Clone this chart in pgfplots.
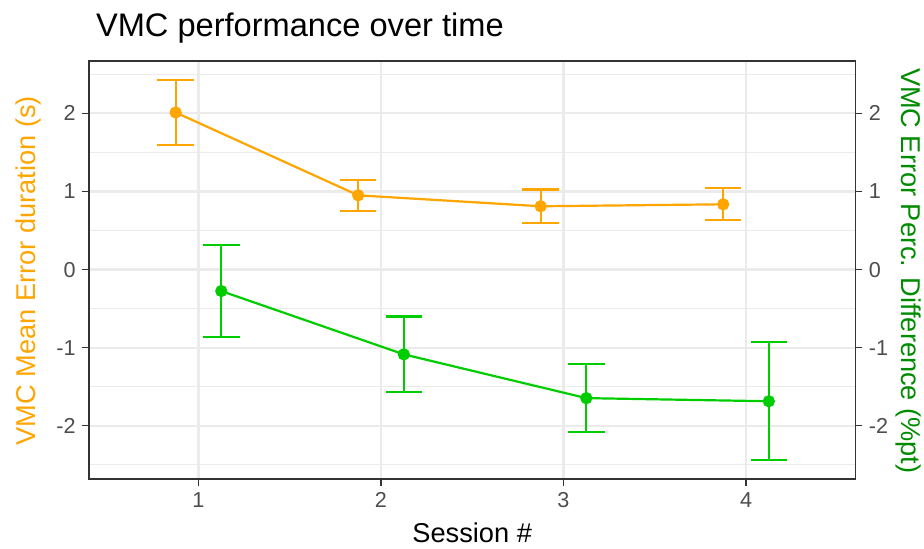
\documentclass[border=0pt]{standalone}
\usepackage{fontspec}
\setmainfont{Liberation Sans}
\usepackage{pgfplots}
\pgfplotsset{compat=1.18}
\definecolor{ggorange}{HTML}{FFA500}
\definecolor{gggreen}{HTML}{00CD00}
\definecolor{gggreenlab}{HTML}{008B00}
\definecolor{gray92}{HTML}{EBEBEB}
\definecolor{gray30}{HTML}{4D4D4D}
\definecolor{gray20}{HTML}{333333}
\pgfplotstableread{
x y ep em
0.875 2.01 0.42 0.42
1.875 0.95 0.20 0.20
2.875 0.81 0.215 0.215
3.875 0.835 0.205 0.205
}\orangedata
\pgfplotstableread{
x y ep em
1.125 -0.275 0.585 0.585
2.125 -1.085 0.485 0.485
3.125 -1.645 0.435 0.435
4.125 -1.685 0.755 0.755
}\greendata
\begin{document}
\begin{tikzpicture}
\useasboundingbox (0,0) rectangle (462pt,274pt);
\pgfplotsset{
  common/.style={
    scale only axis, width=383.25pt, height=208.85pt,
    at={(44.5pt,34.5pt)}, anchor=south west,
    xmin=0.4, xmax=4.6, ymin=-2.68, ymax=2.665,
    ytick={-2,-1,0,1,2}, yticklabels={-2,-1,0,1,2},
    tick align=outside, major tick length=3.3pt,
    tick style={gray20, line width=0.55pt},
    ticklabel style={font=\fontsize{10.8}{12}\selectfont, text=gray30, inner sep=0pt},
    axis line style={gray20, line width=0.85pt},
  }
}
\begin{axis}[common,
  xtick={1,2,3,4}, xticklabels={1,2,3,4}, xtick pos=bottom, ytick pos=left,
  minor ytick={-2.5,-1.5,-0.5,0.5,1.5,2.5},
  minor tick length=0pt,
  xmajorgrids, ymajorgrids, yminorgrids,
  major grid style={gray92, line width=1.1pt},
  minor grid style={gray92, line width=0.55pt},
  yticklabel style={anchor=east, xshift=-3.2pt},
  xticklabel style={anchor=north, yshift=-3.2pt},
]
\addplot[ggorange, line width=1.1pt, mark=*, mark size=2.5pt,
  error bars/.cd, y dir=both, y explicit, error mark=|,
  error bar style={line width=1.1pt, ggorange},
  error mark options={ggorange, mark size=9.15pt, line width=1.1pt}]
  table[x=x, y=y, y error plus=ep, y error minus=em] {\orangedata};
\addplot[gggreen, line width=1.1pt, mark=*, mark size=2.5pt,
  error bars/.cd, y dir=both, y explicit, error mark=|,
  error bar style={line width=1.1pt, gggreen},
  error mark options={gggreen, mark size=9.15pt, line width=1.1pt}]
  table[x=x, y=y, y error plus=ep, y error minus=em] {\greendata};
\end{axis}
\begin{axis}[common,
  axis x line=none, axis y line*=right, ytick pos=right,
  yticklabel style={anchor=west, xshift=3.2pt},
]
\addplot[draw=none] coordinates {(1,0)};
\end{axis}
\node[anchor=base west, font=\fontsize{16.3}{19}\selectfont] at (44.5pt,255.6pt) {VMC performance over time};
\node[anchor=base, font=\fontsize{13.6}{16}\selectfont] at (236.1pt,2.75pt) {Session \#};
\node[anchor=base, rotate=90, text=ggorange, font=\fontsize{13.6}{16}\selectfont] at (17.5pt,138.6pt) {VMC Mean Error duration (s)};
\node[anchor=base, rotate=-90, text=gggreenlab, font=\fontsize{13.6}{16}\selectfont] at (450.5pt,138.6pt) {VMC Error Perc. Difference (\%pt)};
\end{tikzpicture}
\end{document}
